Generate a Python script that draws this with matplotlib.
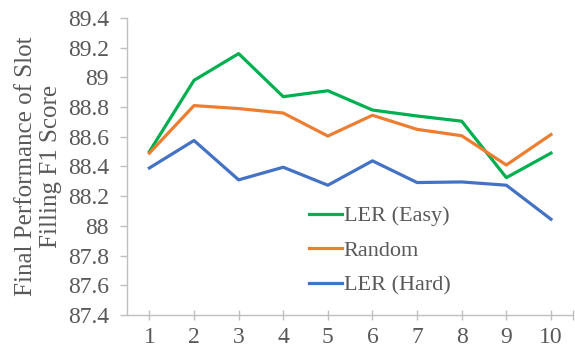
import matplotlib.pyplot as plt

plt.rcParams.update({
    "font.family": "Liberation Serif",
    "font.size": 17,
    "text.color": "#595959",
    "axes.labelcolor": "#595959",
    "xtick.color": "#BFBFBF",
    "ytick.color": "#BFBFBF",
    "xtick.labelcolor": "#595959",
    "ytick.labelcolor": "#595959",
})

# data
steps = [1, 2, 3, 4, 5, 6, 7, 8, 9, 10]
ler_easy = [88.50, 88.98, 89.16, 88.87, 88.91, 88.78, 88.74, 88.705, 88.325, 88.49]
random_ = [88.49, 88.81, 88.79, 88.76, 88.605, 88.745, 88.65, 88.607, 88.41, 88.615]
ler_hard = [88.39, 88.575, 88.31, 88.395, 88.274, 88.438, 88.292, 88.296, 88.274, 88.045]
yticks = [87.4, 87.6, 87.8, 88, 88.2, 88.4, 88.6, 88.8, 89, 89.2, 89.4]

fig = plt.figure(figsize=(5.75, 3.52), dpi=100)
ax = fig.add_axes([0.221, 0.105, 0.776, 0.844])

ax.plot(steps, ler_easy, color="#00B050", lw=2.3, label="LER (Easy)")
ax.plot(steps, random_, color="#ED7D31", lw=2.3, label="Random")
ax.plot(steps, ler_hard, color="#4472C4", lw=2.3, label="LER (Hard)")

ax.set_xlim(0.5, 10.5)
ax.set_ylim(87.4, 89.4)
ax.set_xticks(steps)
ax.set_xticks([10.5], minor=True)
ax.set_yticks(yticks)
ax.set_yticklabels([f"{v:g}" for v in yticks])

for s in ["top", "right"]:
    ax.spines[s].set_visible(False)
for s in ["left", "bottom"]:
    ax.spines[s].set_color("#BFBFBF")
    ax.spines[s].set_linewidth(1)

ax.tick_params(axis="y", direction="out", length=5, width=1, pad=8)
ax.tick_params(axis="x", which="both", direction="inout", length=7, width=1, pad=5)

ax.set_ylabel("Final Performance of Slot\nFilling F1 Score", fontsize=18, linespacing=1.2)
ax.yaxis.set_label_coords(-0.146, 0.5)

ax.legend(loc="center left", bbox_to_anchor=(0.382, 0.216), frameon=False, fontsize=16,
          borderpad=0, handlelength=1.5, handletextpad=0.08, labelspacing=0.64)

fig.savefig("out.png", dpi=100)
